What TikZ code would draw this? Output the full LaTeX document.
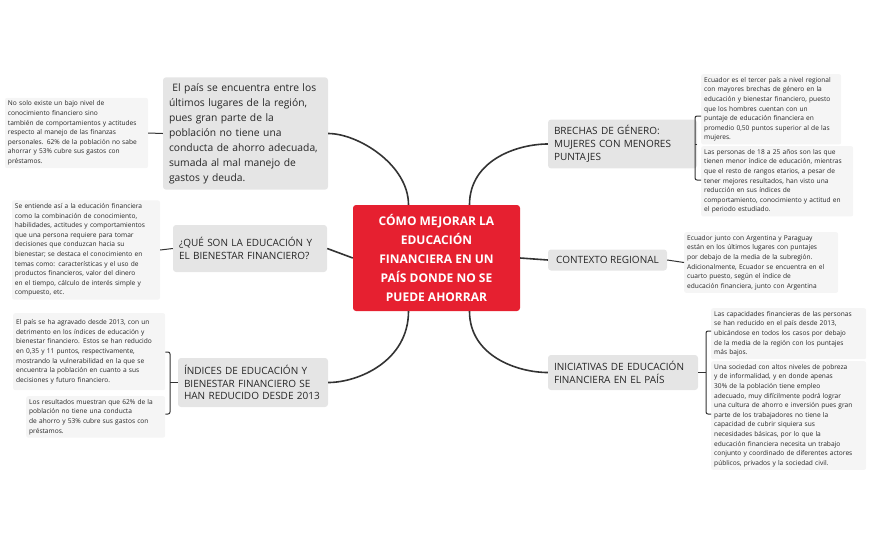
\documentclass[tikz,border=0pt]{standalone}
\usepackage{fontspec}
\setmainfont{Open Sans}
\begin{document}
\begin{tikzpicture}[x=1pt,y=-1pt,
 br/.style={fill=black!10,rounded corners=3pt,inner sep=6pt,align=left,font=\fontsize{10}{12.8}\selectfont,text=black!85},
 det/.style={fill=black!4,rounded corners=2pt,inner sep=3pt,align=left,font=\fontsize{6.6}{9.6}\selectfont,text=black!85},
 ln/.style={draw=black!80,line width=1.6pt},
 sl/.style={draw=black!80,line width=1pt,rounded corners=2pt}]
\useasboundingbox (0,0) rectangle (871,539);
\node[fill={rgb,255:red,230;green,32;blue,48},rounded corners=3pt,minimum width=167pt,minimum height=106pt,align=center,text=white,font=\bfseries\fontsize{12}{19}\selectfont] (c) at (436.5,258) {CÓMO MEJORAR LA\\EDUCACIÓN\\FINANCIERA EN UN\\PAÍS DONDE NO SE\\PUEDE AHORRAR};
% left
\node[br,text width=153pt,minimum height=99pt,font=\fontsize{10.3}{15}\selectfont] (a) at (245.5,133.5) {\ El país se encuentra entre los\\últimos lugares de la región,\\pues gran parte de la\\población no tiene una\\conducta de ahorro adecuada,\\sumada al mal manejo de\\gastos y deuda.};
\node[det,text width=137pt,minimum height=68pt] (a1) at (76.5,133) {No solo existe un bajo nivel de\\conocimiento financiero sino\\también de comportamientos y actitudes\\respecto al manejo de las finanzas\\personales. 62\% de la población no sabe\\ahorrar y 53\% cubre sus gastos con\\préstamos.};
\node[br,text width=142pt,minimum height=47pt] (b) at (250,248.5) {¿QUÉ SON LA EDUCACIÓN Y\\EL BIENESTAR FINANCIERO?};
\node[det,text width=142pt,minimum height=94pt] (b1) at (86,250) {Se entiende así a la educación financiera\\como la combinación de conocimiento,\\habilidades, actitudes y comportamientos\\que una persona requiere para tomar\\decisiones que conduzcan hacia su\\bienestar; se destaca el conocimiento en\\temas como: características y el uso de\\productos financieros, valor del dinero\\en el tiempo, cálculo de interés simple y\\compuesto, etc.};
\node[br,text width=138pt,minimum height=49pt] (d) at (253,382.5) {ÍNDICES DE EDUCACIÓN Y\\BIENESTAR FINANCIERO SE\\HAN REDUCIDO DESDE 2013};
\node[det,text width=146pt,minimum height=77pt,anchor=north west] (d1) at (13,313) {El país se ha agravado desde 2013, con un\\detrimento en los índices de educación y\\bienestar financiero. Estos se han reducido\\en 0,35 y 11 puntos, respectivamente,\\mostrando la vulnerabilidad en la que se\\encuentra la población en cuanto a sus\\decisiones y futuro financiero.};
\node[det,text width=133pt,minimum height=38pt,anchor=north west] (d2) at (26,396) {Los resultados muestran que 62\% de la\\población no tiene una conducta\\de ahorro y 53\% cubre sus gastos con\\préstamos.};
% right
\node[br,text width=137pt,minimum height=48pt] (e) at (622.5,144) {BRECHAS DE GÉNERO:\\MUJERES CON MENORES\\PUNTAJES};
\node[det,text width=134pt,minimum height=67pt,anchor=north west] (e1) at (701,74) {Ecuador es el tercer país a nivel regional\\con mayores brechas de género en la\\educación y bienestar financiero, puesto\\que los hombres cuentan con un\\puntaje de educación financiera en\\promedio 0,50 puntos superior al de las\\mujeres.};
\node[det,text width=146pt,minimum height=67pt,anchor=north west] (e2) at (701,146) {Las personas de 18 a 25 años son las que\\tienen menor índice de educación, mientras\\que el resto de rangos etarios, a pesar de\\tener mejores resultados, han visto una\\reducción en sus índices de\\comportamiento, conocimiento y actitud en\\el periodo estudiado.};
\node[br,minimum width=119pt,minimum height=21pt] (f) at (607.5,260) {CONTEXTO REGIONAL};
\node[det,text width=148pt,minimum height=58pt,anchor=north west] (f1) at (684,232) {Ecuador junto con Argentina y Paraguay\\están en los últimos lugares con puntajes\\por debajo de la media de la subregión.\\Adicionalmente, Ecuador se encuentra en el\\cuarto puesto, según el índice de\\educación financiera, junto con Argentina};
\node[br,text width=138pt,minimum height=35pt] (g) at (623,372.5) {INICIATIVAS DE EDUCACIÓN\\FINANCIERA EN EL PAÍS};
\node[det,text width=149pt,minimum height=47pt,anchor=north west] (g1) at (711,308) {Las capacidades financieras de las personas\\se han reducido en el país desde 2013,\\ubicándose en todos los casos por debajo\\de la media de la región con los puntajes\\más bajos.};
\node[det,text width=149pt,minimum height=104pt,anchor=north west] (g2) at (711,361) {Una sociedad con altos niveles de pobreza\\y de informalidad, y en donde apenas\\30\% de la población tiene empleo\\adecuado, muy difícilmente podrá lograr\\una cultura de ahorro e inversión pues gran\\parte de los trabajadores no tiene la\\capacidad de cubrir siquiera sus\\necesidades básicas, por lo que la\\educación financiera necesita un trabajo\\conjunto y coordinado de diferentes actores\\públicos, privados y la sociedad civil.};
% main connectors
\draw[ln] ([xshift=-28pt]c.north) .. controls +(0,-40) and +(30,0) .. (a.east);
\draw[ln] (c.west) -- (b.east);
\draw[ln] ([xshift=-28pt]c.south) .. controls +(0,50) and +(30,0) .. (d.east);
\draw[ln] ([xshift=33pt]c.north) .. controls +(0,-45) and +(-30,0) .. (e.west);
\draw[ln] (c.east) -- (f.west);
\draw[ln] ([xshift=33pt]c.south) .. controls +(0,45) and +(-30,0) .. (g.west);
% sub connectors
\draw[sl] (a.west) -- (a1.east);
\draw[sl] (b.west) -- (b1.east);
\draw[sl] (f.east) -- (f1.west);
\coordinate (dj) at (170,382.5);
\draw[sl] (d.west) -- (dj);
\draw[sl] (d1.east |- 0,352) -- (170,352) -- (170,414) -- (d2.east |- 0,414);
\coordinate (ej) at (695,144);
\draw[sl] (e.east) -- (ej);
\draw[sl] (e1.west |- 0,116) -- (695,116) -- (695,180) -- (e2.west |- 0,180);
\coordinate (gj) at (706,372.5);
\draw[sl] (g.east) -- (gj);
\draw[sl] (g1.west |- 0,331) -- (706,331) -- (706,414) -- (g2.west |- 0,414);
\end{tikzpicture}
\end{document}
